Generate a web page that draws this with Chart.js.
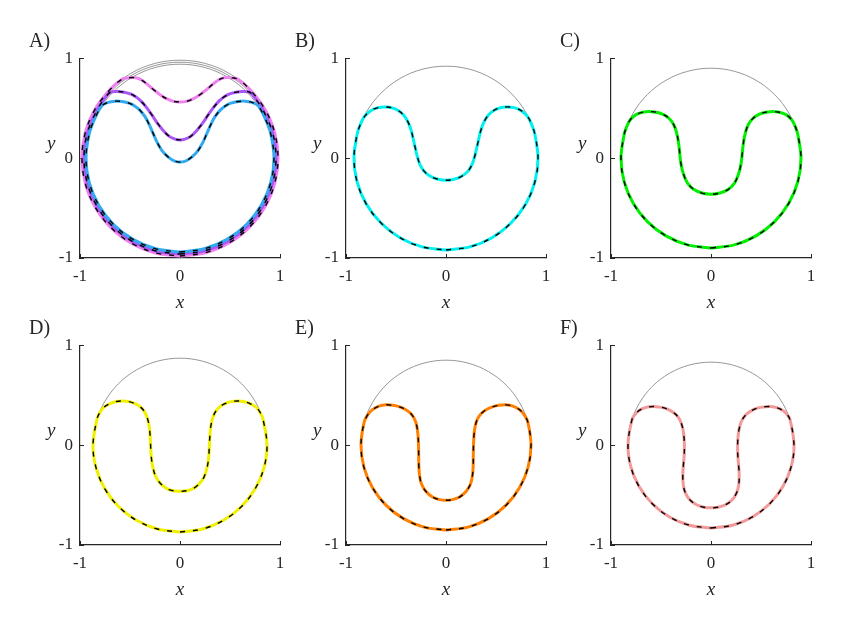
<!DOCTYPE html>
<html>
<head>
<meta charset="utf-8">
<script src="https://cdn.jsdelivr.net/npm/chart.js@4.4.1/dist/chart.umd.min.js"></script>
<style>
  body { margin: 0; background: #fff; }
  #figure { position: relative; width: 858px; height: 629px; font-family: 'Liberation Serif', serif; color: #262626; }
  .panel { position: absolute; width: 280px; height: 281px; }
  .label { position: absolute; font-size: 20px; line-height: 1; }
  .ylabel { position: absolute; font-size: 19px; font-style: italic; line-height: 1; }
</style>
</head>
<body>
<div id="figure"></div>
<script>
const xTicks = [-1, 0, 1]
const yTicks = [-1, 0, 1]
const panelLabels = ['A)', 'B)', 'C)', 'D)', 'E)', 'F)']

// gray reference circles
const circleA1 = [[0,-0.98],[0.254,-0.947],[0.49,-0.849],[0.693,-0.693],[0.849,-0.49],[0.947,-0.254],[0.98,0],[0.947,0.254],[0.849,0.49],[0.693,0.693],[0.49,0.849],[0.254,0.947],[0,0.98],[-0.254,0.947],[-0.49,0.849],[-0.693,0.693],[-0.849,0.49],[-0.947,0.254],[-0.98,0],[-0.947,-0.254],[-0.849,-0.49],[-0.693,-0.693],[-0.49,-0.849],[-0.254,-0.947],[0,-0.98]]
const circleA2 = [[0,-0.96],[0.249,-0.927],[0.48,-0.831],[0.679,-0.679],[0.831,-0.48],[0.927,-0.249],[0.96,0],[0.927,0.249],[0.831,0.48],[0.679,0.679],[0.48,0.831],[0.249,0.927],[0,0.96],[-0.249,0.927],[-0.48,0.831],[-0.679,0.679],[-0.831,0.48],[-0.927,0.249],[-0.96,0],[-0.927,-0.249],[-0.831,-0.48],[-0.679,-0.679],[-0.48,-0.831],[-0.249,-0.927],[0,-0.96]]
const circleA3 = [[0,-0.94],[0.243,-0.908],[0.47,-0.814],[0.665,-0.665],[0.814,-0.47],[0.908,-0.243],[0.94,0],[0.908,0.243],[0.814,0.47],[0.665,0.665],[0.47,0.814],[0.243,0.908],[0,0.94],[-0.243,0.908],[-0.47,0.814],[-0.665,0.665],[-0.814,0.47],[-0.908,0.243],[-0.94,0],[-0.908,-0.243],[-0.814,-0.47],[-0.665,-0.665],[-0.47,-0.814],[-0.243,-0.908],[0,-0.94]]
const circleB = [[0,-0.92],[0.238,-0.889],[0.46,-0.797],[0.65,-0.65],[0.797,-0.46],[0.889,-0.238],[0.92,0],[0.889,0.238],[0.797,0.46],[0.65,0.65],[0.46,0.797],[0.238,0.889],[0,0.92],[-0.238,0.889],[-0.46,0.797],[-0.65,0.65],[-0.797,0.46],[-0.889,0.238],[-0.92,0],[-0.889,-0.238],[-0.797,-0.46],[-0.65,-0.65],[-0.46,-0.797],[-0.238,-0.889],[0,-0.92]]
const circleC = [[0,-0.9],[0.233,-0.869],[0.45,-0.779],[0.636,-0.636],[0.779,-0.45],[0.869,-0.233],[0.9,0],[0.869,0.233],[0.779,0.45],[0.636,0.636],[0.45,0.779],[0.233,0.869],[0,0.9],[-0.233,0.869],[-0.45,0.779],[-0.636,0.636],[-0.779,0.45],[-0.869,0.233],[-0.9,0],[-0.869,-0.233],[-0.779,-0.45],[-0.636,-0.636],[-0.45,-0.779],[-0.233,-0.869],[0,-0.9]]
const circleD = [[0,-0.87],[0.225,-0.84],[0.435,-0.753],[0.615,-0.615],[0.753,-0.435],[0.84,-0.225],[0.87,0],[0.84,0.225],[0.753,0.435],[0.615,0.615],[0.435,0.753],[0.225,0.84],[0,0.87],[-0.225,0.84],[-0.435,0.753],[-0.615,0.615],[-0.753,0.435],[-0.84,0.225],[-0.87,0],[-0.84,-0.225],[-0.753,-0.435],[-0.615,-0.615],[-0.435,-0.753],[-0.225,-0.84],[0,-0.87]]
const circleE = [[0,-0.85],[0.22,-0.821],[0.425,-0.736],[0.601,-0.601],[0.736,-0.425],[0.821,-0.22],[0.85,0],[0.821,0.22],[0.736,0.425],[0.601,0.601],[0.425,0.736],[0.22,0.821],[0,0.85],[-0.22,0.821],[-0.425,0.736],[-0.601,0.601],[-0.736,0.425],[-0.821,0.22],[-0.85,0],[-0.821,-0.22],[-0.736,-0.425],[-0.601,-0.601],[-0.425,-0.736],[-0.22,-0.821],[0,-0.85]]
const circleF = [[0,-0.83],[0.215,-0.802],[0.415,-0.719],[0.587,-0.587],[0.719,-0.415],[0.802,-0.215],[0.83,0],[0.802,0.215],[0.719,0.415],[0.587,0.587],[0.415,0.719],[0.215,0.802],[0,0.83],[-0.215,0.802],[-0.415,0.719],[-0.587,0.587],[-0.719,0.415],[-0.802,0.215],[-0.83,0],[-0.802,-0.215],[-0.719,-0.415],[-0.587,-0.587],[-0.415,-0.719],[-0.215,-0.802],[0,-0.83]]

// coloured shapes (drawn again as black dashes on top)
const shapeA1 = [[0,-0.98],[0.254,-0.947],[0.49,-0.849],[0.693,-0.693],[0.849,-0.49],[0.947,-0.254],[0.98,0],[0.947,0.254],[0.849,0.49],[0.693,0.693],[0.58,0.79],[0.52,0.803],[0.46,0.806],[0.40,0.79],[0.335,0.745],[0.27,0.69],[0.2,0.635],[0.13,0.592],[0.065,0.568],[0,0.562],[-0.065,0.568],[-0.13,0.592],[-0.2,0.635],[-0.27,0.69],[-0.335,0.745],[-0.40,0.79],[-0.46,0.806],[-0.52,0.803],[-0.58,0.79],[-0.693,0.693],[-0.849,0.49],[-0.947,0.254],[-0.98,0],[-0.947,-0.254],[-0.849,-0.49],[-0.693,-0.693],[-0.49,-0.849],[-0.254,-0.947],[0,-0.98]]
const shapeA2 = [[0,-0.96],[0.249,-0.927],[0.48,-0.831],[0.679,-0.679],[0.831,-0.48],[0.927,-0.249],[0.96,0],[0.927,0.249],[0.831,0.48],[0.76,0.587],[0.70,0.657],[0.63,0.667],[0.56,0.66],[0.49,0.64],[0.43,0.605],[0.38,0.56],[0.33,0.50],[0.28,0.43],[0.23,0.355],[0.17,0.28],[0.11,0.22],[0.05,0.19],[0,0.182],[-0.05,0.19],[-0.11,0.22],[-0.17,0.28],[-0.23,0.355],[-0.28,0.43],[-0.33,0.50],[-0.38,0.56],[-0.43,0.605],[-0.49,0.64],[-0.56,0.66],[-0.63,0.667],[-0.70,0.657],[-0.76,0.587],[-0.831,0.48],[-0.927,0.249],[-0.96,0],[-0.927,-0.249],[-0.831,-0.48],[-0.679,-0.679],[-0.48,-0.831],[-0.249,-0.927],[0,-0.96]]
const shapeA3 = [[0,-0.94],[0.243,-0.908],[0.47,-0.814],[0.665,-0.665],[0.814,-0.47],[0.908,-0.243],[0.94,0],[0.908,0.243],[0.85,0.40],[0.78,0.525],[0.72,0.557],[0.65,0.57],[0.58,0.566],[0.51,0.55],[0.45,0.52],[0.40,0.478],[0.35,0.415],[0.31,0.34],[0.27,0.25],[0.23,0.16],[0.18,0.075],[0.12,0.012],[0.06,-0.027],[0,-0.04],[-0.06,-0.027],[-0.12,0.012],[-0.18,0.075],[-0.23,0.16],[-0.27,0.25],[-0.31,0.34],[-0.35,0.415],[-0.40,0.478],[-0.45,0.52],[-0.51,0.55],[-0.58,0.566],[-0.65,0.57],[-0.72,0.557],[-0.78,0.525],[-0.85,0.40],[-0.908,0.243],[-0.94,0],[-0.908,-0.243],[-0.814,-0.47],[-0.665,-0.665],[-0.47,-0.814],[-0.243,-0.908],[0,-0.94]]
const shapeB = [[0,-0.92],[0.238,-0.889],[0.46,-0.797],[0.65,-0.65],[0.797,-0.46],[0.889,-0.238],[0.92,0],[0.889,0.238],[0.855,0.34],[0.82,0.41],[0.76,0.47],[0.68,0.505],[0.593,0.512],[0.515,0.495],[0.452,0.458],[0.405,0.405],[0.37,0.34],[0.345,0.265],[0.325,0.18],[0.307,0.1],[0.288,0.02],[0.262,-0.06],[0.222,-0.128],[0.16,-0.18],[0.08,-0.212],[0,-0.222],[-0.08,-0.212],[-0.16,-0.18],[-0.222,-0.128],[-0.262,-0.06],[-0.288,0.02],[-0.307,0.1],[-0.325,0.18],[-0.345,0.265],[-0.37,0.34],[-0.405,0.405],[-0.452,0.458],[-0.515,0.495],[-0.593,0.512],[-0.68,0.505],[-0.76,0.47],[-0.82,0.41],[-0.855,0.34],[-0.889,0.238],[-0.92,0],[-0.889,-0.238],[-0.797,-0.46],[-0.65,-0.65],[-0.46,-0.797],[-0.238,-0.889],[0,-0.92]]
const shapeC = [[0,-0.9],[0.233,-0.869],[0.45,-0.779],[0.636,-0.636],[0.779,-0.45],[0.869,-0.233],[0.9,0],[0.869,0.233],[0.845,0.31],[0.81,0.38],[0.75,0.435],[0.67,0.462],[0.59,0.465],[0.515,0.452],[0.45,0.422],[0.395,0.37],[0.358,0.3],[0.334,0.21],[0.32,0.12],[0.31,0.02],[0.298,-0.07],[0.275,-0.16],[0.235,-0.25],[0.17,-0.315],[0.09,-0.35],[0,-0.362],[-0.09,-0.35],[-0.17,-0.315],[-0.235,-0.25],[-0.275,-0.16],[-0.298,-0.07],[-0.31,0.02],[-0.32,0.12],[-0.334,0.21],[-0.358,0.3],[-0.395,0.37],[-0.45,0.422],[-0.515,0.452],[-0.59,0.465],[-0.67,0.462],[-0.75,0.435],[-0.81,0.38],[-0.845,0.31],[-0.869,0.233],[-0.9,0],[-0.869,-0.233],[-0.779,-0.45],[-0.636,-0.636],[-0.45,-0.779],[-0.233,-0.869],[0,-0.9]]
const shapeD = [[0,-0.87],[0.225,-0.84],[0.435,-0.753],[0.615,-0.615],[0.753,-0.435],[0.84,-0.225],[0.87,0],[0.83,0.26],[0.80,0.33],[0.76,0.38],[0.70,0.415],[0.635,0.437],[0.575,0.442],[0.51,0.435],[0.45,0.415],[0.40,0.385],[0.355,0.335],[0.325,0.265],[0.307,0.18],[0.298,0.08],[0.293,-0.02],[0.287,-0.12],[0.272,-0.22],[0.24,-0.32],[0.185,-0.395],[0.11,-0.445],[0,-0.463],[-0.11,-0.445],[-0.185,-0.395],[-0.24,-0.32],[-0.272,-0.22],[-0.287,-0.12],[-0.293,-0.02],[-0.298,0.08],[-0.307,0.18],[-0.325,0.265],[-0.355,0.335],[-0.40,0.385],[-0.45,0.415],[-0.51,0.435],[-0.575,0.442],[-0.635,0.437],[-0.70,0.415],[-0.76,0.38],[-0.80,0.33],[-0.83,0.26],[-0.87,0],[-0.84,-0.225],[-0.753,-0.435],[-0.615,-0.615],[-0.435,-0.753],[-0.225,-0.84],[0,-0.87]]
const shapeE = [[0,-0.85],[0.22,-0.821],[0.425,-0.736],[0.601,-0.601],[0.736,-0.425],[0.821,-0.22],[0.85,0],[0.82,0.224],[0.785,0.30],[0.735,0.355],[0.67,0.39],[0.60,0.403],[0.53,0.398],[0.465,0.383],[0.405,0.357],[0.355,0.318],[0.315,0.262],[0.292,0.19],[0.28,0.1],[0.275,0],[0.273,-0.1],[0.272,-0.2],[0.265,-0.3],[0.245,-0.39],[0.2,-0.465],[0.135,-0.52],[0.065,-0.546],[0,-0.552],[-0.065,-0.546],[-0.135,-0.52],[-0.2,-0.465],[-0.245,-0.39],[-0.265,-0.3],[-0.272,-0.2],[-0.273,-0.1],[-0.275,0],[-0.28,0.1],[-0.292,0.19],[-0.315,0.262],[-0.355,0.318],[-0.405,0.357],[-0.465,0.383],[-0.53,0.398],[-0.60,0.403],[-0.67,0.39],[-0.735,0.355],[-0.785,0.30],[-0.82,0.224],[-0.85,0],[-0.821,-0.22],[-0.736,-0.425],[-0.601,-0.601],[-0.425,-0.736],[-0.22,-0.821],[0,-0.85]]
const shapeF = [[0,-0.83],[0.215,-0.802],[0.415,-0.719],[0.587,-0.587],[0.719,-0.415],[0.802,-0.215],[0.83,0],[0.79,0.255],[0.75,0.318],[0.69,0.362],[0.62,0.383],[0.55,0.385],[0.48,0.375],[0.415,0.35],[0.355,0.31],[0.31,0.25],[0.283,0.17],[0.27,0.08],[0.266,-0.01],[0.268,-0.1],[0.276,-0.2],[0.282,-0.3],[0.277,-0.4],[0.255,-0.48],[0.21,-0.55],[0.14,-0.6],[0.07,-0.622],[0,-0.628],[-0.07,-0.622],[-0.14,-0.6],[-0.21,-0.55],[-0.255,-0.48],[-0.277,-0.4],[-0.282,-0.3],[-0.276,-0.2],[-0.268,-0.1],[-0.266,-0.01],[-0.27,0.08],[-0.283,0.17],[-0.31,0.25],[-0.355,0.31],[-0.415,0.35],[-0.48,0.375],[-0.55,0.385],[-0.62,0.383],[-0.69,0.362],[-0.75,0.318],[-0.79,0.255],[-0.83,0],[-0.802,-0.215],[-0.719,-0.415],[-0.587,-0.587],[-0.415,-0.719],[-0.215,-0.802],[0,-0.83]]

const axisColor = '#262626'
const fontFamily = "'Liberation Serif', serif"

// left/top = pixel position of each axes box
const panels = [
  { left: 80, top: 57, circles: [circleA1, circleA2, circleA3], shapes: [shapeA1, shapeA2, shapeA3], colors: ['#ee82ee', '#aa55f5', '#33aaf0'] },
  { left: 346, top: 57, circles: [circleB], shapes: [shapeB], colors: ['#00f0f0'] },
  { left: 611, top: 57, circles: [circleC], shapes: [shapeC], colors: ['#00ee00'] },
  { left: 80, top: 344, circles: [circleD], shapes: [shapeD], colors: ['#f0f000'] },
  { left: 346, top: 344, circles: [circleE], shapes: [shapeE], colors: ['#ff8000'] },
  { left: 611, top: 344, circles: [circleF], shapes: [shapeF], colors: ['#f29a9a'] },
]

const toPoints = (pairs) => pairs.map(([x, y]) => ({ x, y }))

const figure = document.getElementById('figure')

panels.forEach((panel, index) => {
  const box = document.createElement('div')
  box.className = 'panel'
  box.style.left = panel.left - 60 + 'px'
  box.style.top = panel.top - 20 + 'px'
  const canvas = document.createElement('canvas')
  canvas.width = 280
  canvas.height = 281
  box.appendChild(canvas)
  figure.appendChild(box)

  const label = document.createElement('div')
  label.className = 'label'
  label.textContent = panelLabels[index]
  label.style.left = panel.left - 51 + 'px'
  label.style.top = panel.top - 27 + 'px'
  figure.appendChild(label)

  const ylabel = document.createElement('div')
  ylabel.className = 'ylabel'
  ylabel.textContent = 'y'
  ylabel.style.left = panel.left - 33 + 'px'
  ylabel.style.top = panel.top + 76 + 'px'
  figure.appendChild(ylabel)

  const line = { showLine: true, pointRadius: 0, tension: 0.35, fill: false }
  const datasets = [
    ...panel.shapes.map((shape) => ({
      ...line, data: toPoints(shape), borderColor: '#000', borderWidth: 1.4, borderDash: [5, 8], order: 0,
    })),
    ...panel.shapes.map((shape, i) => ({
      ...line, data: toPoints(shape), borderColor: panel.colors[i], borderWidth: 3, order: 3 - i,
    })),
    ...panel.circles.map((circle) => ({
      ...line, data: toPoints(circle), borderColor: '#8c8c8c', borderWidth: 0.9, order: 5,
    })),
  ]

  const tickFont = { family: fontFamily, size: 17 }

  new Chart(canvas.getContext('2d'), {
    type: 'scatter',
    data: { datasets },
    options: {
      responsive: false,
      animation: false,
      layout: { padding: { top: 20, right: 20, left: 0, bottom: 0 }, autoPadding: false },
      plugins: { legend: { display: false }, tooltip: { enabled: false } },
      scales: {
        x: {
          type: 'linear',
          min: -1,
          max: 1,
          afterBuildTicks: (scale) => { scale.ticks = xTicks.map((value) => ({ value })) },
          afterFit: (scale) => { scale.height = 60 },
          grid: { drawOnChartArea: false, drawTicks: true, tickLength: -4, tickColor: axisColor, tickWidth: 1 },
          border: { display: true, color: axisColor, width: 1.2 },
          ticks: { color: axisColor, padding: 12, font: tickFont, maxRotation: 0 },
          title: {
            display: true, text: 'x', color: axisColor,
            font: { family: fontFamily, size: 19, style: 'italic' },
            padding: { top: 0, bottom: 4 },
          },
        },
        y: {
          type: 'linear',
          min: -1,
          max: 1,
          afterBuildTicks: (scale) => { scale.ticks = yTicks.map((value) => ({ value })) },
          afterFit: (scale) => { scale.width = 60 },
          grid: { drawOnChartArea: false, drawTicks: true, tickLength: -4, tickColor: axisColor, tickWidth: 1 },
          border: { display: true, color: axisColor, width: 1.2 },
          ticks: { color: axisColor, padding: 11, font: tickFont },
        },
      },
    },
  })
})
</script>
</body>
</html>
